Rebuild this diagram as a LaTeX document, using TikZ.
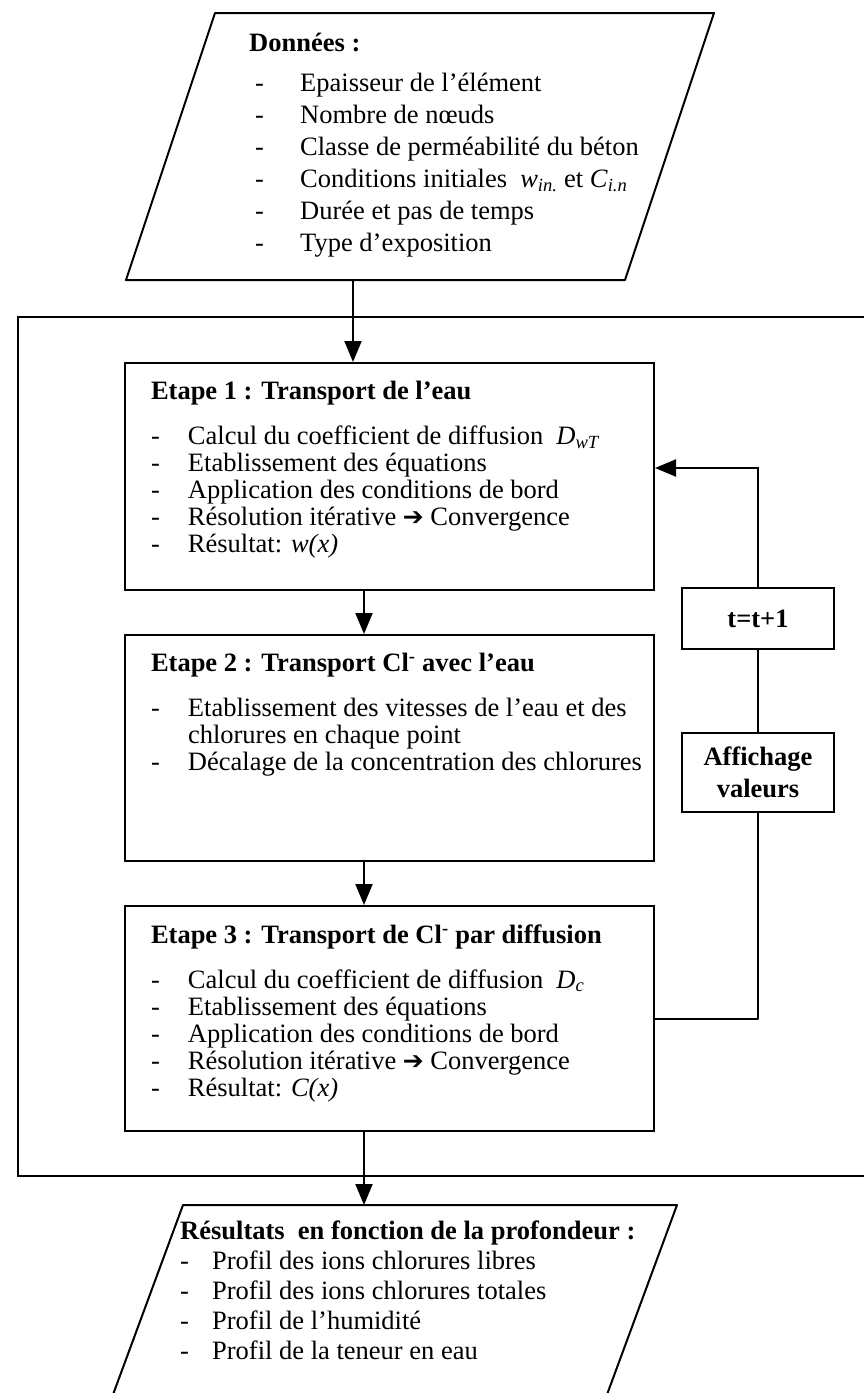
\documentclass[tikz,border=0pt]{standalone}
\usepackage{fontspec}
\setmainfont{Liberation Serif}
\newfontfamily\flechefont{DejaVu Sans}
\usetikzlibrary{arrows.meta}

\newcommand{\corps}{\fontsize{26.5pt}{32pt}\selectfont}
\newcommand{\serre}{\fontsize{26.5pt}{27pt}\selectfont}
\newcommand{\tiret}[1][37pt]{\makebox[#1][l]{-}}
\newcommand{\fl}{{\flechefont\fontsize{25pt}{25pt}\selectfont ➔}}
\newcommand{\ital}[2]{\textit{#1}\textsubscript{\textit{#2}}}
\newcommand{\contenu}[2]{\parbox[c][#1][t]{520pt}{\leftskip=21.5pt #2}}

\begin{document}
\begin{tikzpicture}[
  x=1pt, y=-1pt,
  trait/.style={line width=2pt, line join=round},
  etape/.style={
    draw, line width=2pt, anchor=north west,
    inner xsep=4.5pt, inner ysep=18.5pt,
    font=\serre, align=left
  },
  petit/.style={
    draw, line width=2pt, minimum width=152pt,
    align=center, font=\corps\bfseries
  },
  liste/.style={anchor=north west, inner sep=0pt, font=\corps, align=left},
  arr/.style={-{Triangle[length=21pt, width=17pt]}, line width=2pt}
]
  \useasboundingbox (0,0) rectangle (864,1393);

  \node[draw, line width=2pt, anchor=north west,
    minimum width=880pt, minimum height=859pt] (cadre) at (17,316) {};

  \draw[trait] (126,280) coordinate (donnees) -- (215,13) -- (714,13) -- (625,280) -- cycle;
  \node[liste] (donneestxt) at (249,33) {\textbf{Données~:}\\[8pt]
    \hspace*{6pt}\tiret[45pt]Epaisseur de l’élément\\
    \hspace*{6pt}\tiret[45pt]Nombre de nœuds\\
    \hspace*{6pt}\tiret[45pt]Classe de perméabilité du béton\\
    \hspace*{6pt}\tiret[45pt]Conditions initiales\ \ \ital{w}{in.} et \ital{C}{i.n}\\
    \hspace*{6pt}\tiret[45pt]Durée et pas de temps\\
    \hspace*{6pt}\tiret[45pt]Type d’exposition};

  \node[etape] (e1) at (124,362) {\contenu{190pt}{%
    \textbf{Etape 1 : Transport de l’eau}\\[18pt]
    \tiret Calcul du coefficient de diffusion\ \ \ital{D}{wT}\\
    \tiret Etablissement des équations\\
    \tiret Application des conditions de bord\\
    \tiret Résolution itérative \fl\ Convergence\\
    \tiret Résultat: \textit{w(x)}}};

  \node[etape] (e2) at (124,634) {\contenu{189pt}{%
    \textbf{Etape 2 : Transport Cl\textsuperscript{-} avec l’eau}\\[18pt]
    \tiret Etablissement des vitesses de l’eau et des\\
    \hspace*{37pt}chlorures en chaque point\\
    \tiret Décalage de la concentration des chlorures}};

  \node[etape] (e3) at (124,905) {\contenu{188pt}{%
    \textbf{Etape 3 : Transport de Cl\textsuperscript{-} par diffusion}\\[18pt]
    \tiret Calcul du coefficient de diffusion\ \ \ital{D}{c}\\
    \tiret Etablissement des équations\\
    \tiret Application des conditions de bord\\
    \tiret Résolution itérative \fl\ Convergence\\
    \tiret Résultat: \textit{C(x)}}};

  \node[petit, minimum height=61pt] (temps) at (758,618.5) {t=t+1};
  \node[petit, minimum height=79pt] (affiche) at (758,772) {Affichage\\valeurs};

  \draw[trait] (183,1205) coordinate (resultats) -- (677,1205) -- (605,1400) -- (111,1400) -- cycle;
  \node[liste, font=\fontsize{26.5pt}{30pt}\selectfont] (resultatstxt) at (180,1220.5)
    {\textbf{Résultats\ \ en fonction de la profondeur~:}\\
    \tiret[32pt]Profil des ions chlorures libres\\
    \tiret[32pt]Profil des ions chlorures totales\\
    \tiret[32pt]Profil de l’humidité\\
    \tiret[32pt]Profil de la teneur en eau};

  \coordinate (xa) at (353,0);
  \coordinate (xb) at (364,0);
  \coordinate (retour) at (0,468);

  \draw[arr] (donnees -| xa) -- (e1.north -| xa);
  \draw[arr] (e1.south -| xb) -- (e2.north -| xb);
  \draw[arr] (e2.south -| xb) -- (e3.north -| xb);
  \draw[arr] (e3.south -| xb) -- (resultats -| xb);

  \draw[trait] (e3.east) -| (affiche.south);
  \draw[trait] (affiche.north) -- (temps.south);
  \draw[arr] (temps.north) |- (e1.east |- retour);
\end{tikzpicture}
\end{document}
